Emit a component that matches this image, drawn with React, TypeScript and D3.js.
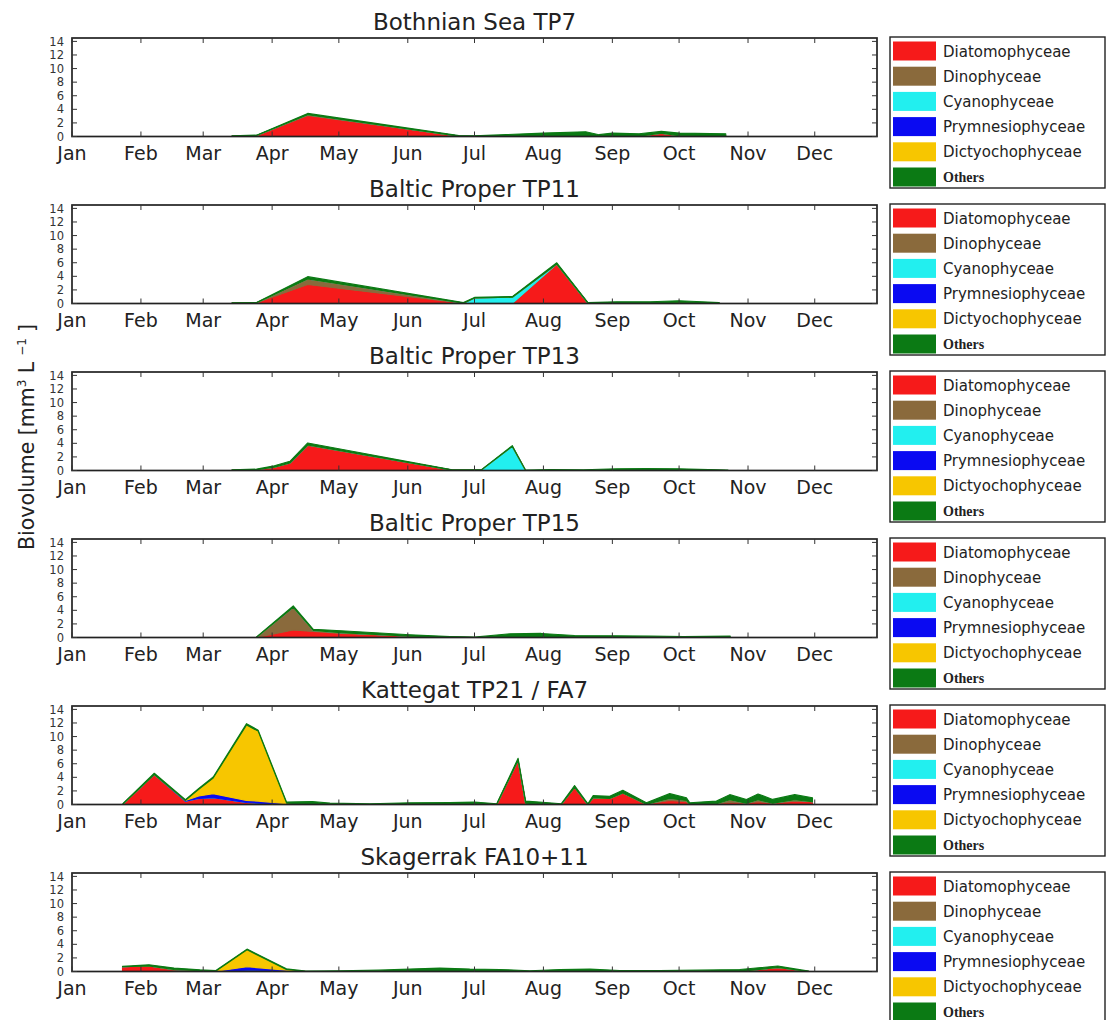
import React from 'react';
import * as d3 from 'd3';

// ---------- shared axes ----------
const monthLabels = ['Jan', 'Feb', 'Mar', 'Apr', 'May', 'Jun', 'Jul', 'Aug', 'Sep', 'Oct', 'Nov', 'Dec'];
const monthStartDays = [0, 31, 59, 90, 120, 151, 181, 212, 243, 273, 304, 334];
const yTickValues = [0, 2, 4, 6, 8, 10, 12, 14];
const groupNames = ['Diatomophyceae', 'Dinophyceae', 'Cyanophyceae', 'Prymnesiophyceae', 'Dictyochophyceae', 'Others'];
const groupColors = ['#f61a1a', '#8a6a3c', '#22efef', '#0a0af2', '#f7c600', '#0b7a14'];
const groupKeys = ['diat', 'dino', 'cyano', 'prym', 'dicty', 'others'];

// ---------- Bothnian Sea TP7 ----------
const tp7Days = [72, 83, 106, 174, 181, 195, 212, 231, 237, 243, 255, 265, 273, 294];
const tp7Diat = [0.05, 0.1, 3.1, 0.05, 0, 0.02, 0.05, 0.05, 0.02, 0.05, 0.05, 0.45, 0.1, 0.05];
const tp7Dino = [0, 0.05, 0.1, 0, 0, 0, 0, 0, 0, 0, 0, 0.05, 0, 0];
const tp7Cyano = [0, 0, 0, 0, 0.02, 0.05, 0, 0, 0, 0, 0, 0, 0, 0];
const tp7Prym = [0, 0, 0, 0, 0, 0, 0, 0, 0, 0, 0, 0, 0, 0];
const tp7Dicty = [0, 0, 0, 0, 0, 0, 0, 0, 0, 0, 0, 0, 0, 0];
const tp7Others = [0.05, 0.05, 0.2, 0.1, 0.1, 0.2, 0.45, 0.65, 0.25, 0.45, 0.35, 0.25, 0.4, 0.35];

// ---------- Baltic Proper TP11 ----------
const tp11Days = [72, 83, 106, 176, 181, 198, 218, 232, 245, 260, 273, 291];
const tp11Diat = [0.05, 0.1, 2.8, 0.05, 0, 0.02, 5.8, 0.05, 0.05, 0.05, 0.1, 0.05];
const tp11Dino = [0, 0, 0.8, 0, 0, 0, 0, 0, 0, 0, 0, 0];
const tp11Cyano = [0, 0, 0, 0, 0.8, 0.9, 0, 0, 0, 0, 0, 0];
const tp11Prym = [0, 0, 0, 0, 0, 0, 0, 0, 0, 0, 0, 0];
const tp11Dicty = [0, 0, 0, 0, 0, 0, 0, 0, 0, 0, 0, 0];
const tp11Others = [0.05, 0.05, 0.35, 0.1, 0.1, 0.1, 0.2, 0.1, 0.2, 0.2, 0.3, 0.1];

// ---------- Baltic Proper TP13 ----------
const tp13Days = [72, 83, 91, 98, 106, 171, 184, 198, 204, 215, 230, 245, 258, 273, 295];
const tp13Diat = [0.05, 0.1, 0.5, 1.1, 3.7, 0.05, 0, 0, 0, 0, 0, 0, 0, 0.05, 0];
const tp13Dino = [0, 0, 0, 0, 0.05, 0, 0, 0, 0, 0, 0, 0, 0, 0, 0];
const tp13Cyano = [0, 0, 0, 0, 0, 0, 0.05, 3.55, 0, 0, 0, 0, 0, 0, 0];
const tp13Prym = [0, 0, 0, 0, 0, 0, 0, 0, 0, 0, 0, 0, 0, 0, 0];
const tp13Dicty = [0, 0, 0, 0, 0, 0, 0, 0, 0, 0, 0, 0, 0, 0, 0];
const tp13Others = [0.05, 0.1, 0.2, 0.25, 0.3, 0.05, 0.05, 0.1, 0.05, 0.15, 0.1, 0.25, 0.3, 0.2, 0.05];

// ---------- Baltic Proper TP15 ----------
const tp15Days = [83, 99.5, 108.5, 121, 152, 170, 181, 197, 211, 226, 245, 260, 275, 296];
const tp15Diat = [0.02, 1.1, 0.9, 0.6, 0.2, 0.05, 0, 0, 0, 0, 0, 0, 0, 0];
const tp15Dino = [0, 3.35, 0.15, 0.1, 0, 0, 0, 0, 0, 0, 0, 0, 0, 0];
const tp15Cyano = [0, 0, 0, 0, 0, 0, 0, 0, 0, 0, 0, 0, 0, 0];
const tp15Prym = [0, 0, 0, 0, 0, 0, 0, 0, 0, 0, 0, 0, 0, 0];
const tp15Dicty = [0, 0, 0, 0, 0, 0, 0, 0, 0, 0, 0, 0, 0, 0];
const tp15Others = [0.05, 0.2, 0.15, 0.3, 0.2, 0.1, 0.05, 0.55, 0.6, 0.3, 0.25, 0.2, 0.15, 0.2];

// ---------- Kattegat TP21 / FA7 ----------
const fa7Days = [23, 37, 51, 57, 63.5, 78.5, 83.7, 96.5, 108, 116, 134, 152, 170, 181, 191, 200.6, 204, 213, 220, 226, 232, 234.3, 241.8, 247.7, 258.3, 268.8, 276.3, 277.8, 289.8, 295.8, 303.3, 308.5, 315.1, 325, 333];
const fa7Diat = [0.1, 4.4, 0.5, 0.9, 1.0, 0.3, 0.2, 0.05, 0.05, 0, 0, 0, 0, 0, 0, 6.5, 0.2, 0, 0, 2.5, 0, 1.0, 0.9, 1.7, 0.05, 0.6, 0.4, 0, 0.1, 0.3, 0.2, 0.4, 0.2, 0.5, 0.4];
const fa7Dino = [0, 0, 0, 0, 0, 0, 0, 0, 0, 0, 0, 0, 0, 0, 0, 0, 0, 0, 0, 0, 0, 0, 0, 0, 0, 0.3, 0.2, 0, 0, 0.4, 0, 0.3, 0, 0.2, 0];
const fa7Cyano = [0, 0, 0, 0, 0, 0, 0, 0, 0, 0, 0, 0, 0, 0, 0, 0, 0, 0, 0, 0, 0, 0, 0, 0, 0, 0, 0, 0, 0, 0, 0, 0, 0, 0, 0];
const fa7Prym = [0, 0, 0.1, 0.35, 0.6, 0.3, 0.3, 0.05, 0, 0, 0, 0, 0, 0, 0, 0, 0, 0, 0, 0, 0, 0, 0, 0, 0, 0, 0, 0, 0, 0, 0, 0, 0, 0, 0];
const fa7Dicty = [0, 0, 0, 1.0, 2.3, 11.1, 10.3, 0.1, 0, 0, 0, 0, 0, 0, 0, 0, 0, 0, 0, 0, 0, 0, 0, 0, 0, 0, 0, 0, 0, 0, 0, 0, 0, 0, 0];
const fa7Others = [0.05, 0.2, 0.1, 0.1, 0.15, 0.2, 0.15, 0.15, 0.4, 0.2, 0.1, 0.25, 0.3, 0.35, 0.1, 0.3, 0.3, 0.3, 0.1, 0.3, 0.1, 0.3, 0.3, 0.4, 0.2, 0.7, 0.4, 0.25, 0.4, 0.75, 0.55, 0.85, 0.55, 0.75, 0.6];

// ---------- Skagerrak FA10+11 ----------
const fa10Days = [22.7, 34.6, 45.9, 57.5, 64.7, 78.7, 96.4, 105.2, 120.5, 138, 152, 165.4, 178.9, 192.4, 205.9, 219.4, 232.9, 246.3, 264.3, 282.3, 300.3, 317.4, 331.3];
const fa10Diat = [0.7, 0.8, 0.2, 0.1, 0.05, 0.2, 0.1, 0, 0, 0, 0, 0, 0, 0, 0, 0, 0, 0, 0, 0, 0, 0.6, 0];
const fa10Dino = [0, 0, 0.1, 0, 0, 0, 0, 0, 0, 0, 0, 0, 0, 0, 0, 0, 0, 0, 0, 0, 0, 0, 0];
const fa10Cyano = [0, 0, 0, 0, 0, 0, 0, 0, 0, 0, 0, 0, 0, 0, 0, 0, 0, 0, 0, 0, 0, 0, 0];
const fa10Prym = [0, 0, 0, 0, 0, 0.5, 0.1, 0, 0, 0, 0, 0, 0, 0, 0, 0, 0, 0, 0, 0, 0, 0, 0];
const fa10Dicty = [0, 0, 0, 0, 0, 2.5, 0.1, 0, 0, 0, 0, 0, 0, 0, 0, 0, 0, 0, 0, 0, 0, 0, 0];
const fa10Others = [0.05, 0.2, 0.2, 0.15, 0.1, 0.1, 0.1, 0.05, 0.1, 0.2, 0.35, 0.5, 0.35, 0.3, 0.1, 0.3, 0.35, 0.15, 0.15, 0.2, 0.3, 0.2, 0.05];

const panels = [
  { title: 'Bothnian Sea TP7', days: tp7Days, series: [tp7Diat, tp7Dino, tp7Cyano, tp7Prym, tp7Dicty, tp7Others] },
  { title: 'Baltic Proper TP11', days: tp11Days, series: [tp11Diat, tp11Dino, tp11Cyano, tp11Prym, tp11Dicty, tp11Others] },
  { title: 'Baltic Proper TP13', days: tp13Days, series: [tp13Diat, tp13Dino, tp13Cyano, tp13Prym, tp13Dicty, tp13Others] },
  { title: 'Baltic Proper TP15', days: tp15Days, series: [tp15Diat, tp15Dino, tp15Cyano, tp15Prym, tp15Dicty, tp15Others] },
  { title: 'Kattegat TP21 / FA7', days: fa7Days, series: [fa7Diat, fa7Dino, fa7Cyano, fa7Prym, fa7Dicty, fa7Others] },
  { title: 'Skagerrak FA10+11', days: fa10Days, series: [fa10Diat, fa10Dino, fa10Cyano, fa10Prym, fa10Dicty, fa10Others] },
];

const W = 1107;
const H = 1020;
const plotLeft = 72;
const plotRight = 877;
const firstTop = 38;
const panelStep = 167;
const plotH = 98.5;
const sans = 'DejaVu Sans, sans-serif';

function Panel({ p, idx }: { p: any; idx: number }) {
  const top = firstTop + idx * panelStep;
  const bottom = top + plotH;
  const x = d3.scaleLinear().domain([0, 362]).range([plotLeft, plotRight]);
  const y = d3.scaleLinear().domain([0, 14.5]).range([bottom, top]);
  const table = p.days.map((d: number, i: number) => {
    const row: any = { day: d };
    groupKeys.forEach((k, g) => (row[k] = p.series[g][i]));
    return row;
  });
  const stacked = d3.stack().keys(groupKeys)(table);
  const area = d3
    .area<any>()
    .x((d) => x(d.data.day))
    .y0((d) => y(d[0]))
    .y1((d) => y(d[1]));
  const legendTop = top - 1;
  return (
    <g>
      <text x={(plotLeft + plotRight) / 2} y={top - 8} textAnchor="middle" fontFamily={sans} fontSize={23} fill="#222">
        {p.title}
      </text>
      {stacked.map((s: any, g: number) => (
        <path key={g} d={area(s) || ''} fill={groupColors[g]} stroke={groupColors[g]} strokeWidth={1.1} strokeLinejoin="round" />
      ))}
      {/* frame */}
      <rect x={plotLeft} y={top} width={plotRight - plotLeft} height={plotH} fill="none" stroke="#222" strokeWidth={1.7} />
      {monthStartDays.map((d, i) => (
        <g key={i}>
          <line x1={x(d)} x2={x(d)} y1={bottom} y2={bottom - 5} stroke="#333" strokeWidth={1} />
          <line x1={x(d)} x2={x(d)} y1={top} y2={top + 5} stroke="#333" strokeWidth={1} />
          <text x={x(d)} y={bottom + 23} textAnchor="middle" fontFamily={sans} fontSize={19} fill="#222">
            {monthLabels[i]}
          </text>
        </g>
      ))}
      {yTickValues.map((v) => (
        <g key={v}>
          <line x1={plotLeft} x2={plotLeft + 5} y1={y(v)} y2={y(v)} stroke="#333" strokeWidth={1} />
          <line x1={plotRight} x2={plotRight - 5} y1={y(v)} y2={y(v)} stroke="#333" strokeWidth={1} />
          <text x={64} y={y(v)} dy="0.36em" textAnchor="end" fontFamily={sans} fontSize={11.5} fill="#333">
            {v}
          </text>
        </g>
      ))}
      {/* legend */}
      <rect x={890} y={legendTop} width={215} height={151} fill="#fff" stroke="#222" strokeWidth={1.4} />
      {groupNames.map((name, g) => {
        const ry = legendTop + 4.5 + g * 25.2;
        return (
          <g key={name}>
            <rect x={893} y={ry} width={43} height={19} fill={groupColors[g]} />
            {name === 'Others' ? (
              <text x={943} y={ry + 14.5} fontFamily="Liberation Serif, serif" fontWeight="bold" fontSize={14} fill="#222">
                {name}
              </text>
            ) : (
              <text x={943} y={ry + 15} fontFamily={sans} fontSize={15} fill="#222">
                {name}
              </text>
            )}
          </g>
        );
      })}
    </g>
  );
}

export default function App() {
  return (
    <svg width={W} height={H} style={{ position: 'absolute', left: 0, top: 0, background: '#fff' }}>
      <rect x={0} y={0} width={W} height={H} fill="#fff" />
      {panels.map((p, i) => (
        <Panel key={i} p={p} idx={i} />
      ))}
      <text
        transform="translate(34,437) rotate(-90)"
        textAnchor="middle"
        fontFamily={sans}
        fontSize={20.5}
        fill="#222"
      >
        Biovolume [mm
        <tspan dy={-8} fontSize={12}>3</tspan>
        <tspan dy={8}>  L</tspan>
        <tspan dy={-8} fontSize={12} dx={6}>−1</tspan>
        <tspan dy={8} dx={6}>]</tspan>
      </text>
    </svg>
  );
}
